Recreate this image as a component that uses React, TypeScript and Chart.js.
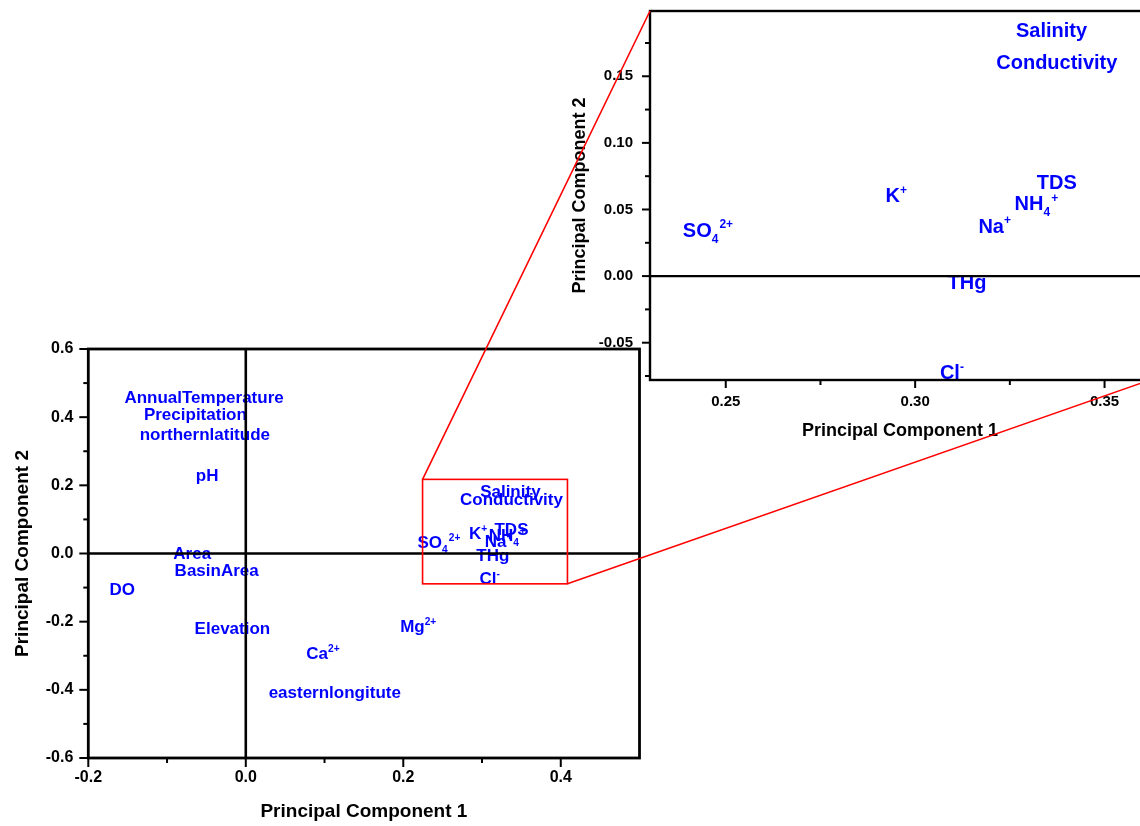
import React, { useEffect, useRef } from 'react';
import { Chart, registerables } from 'chart.js';
Chart.register(...registerables);

const FONT = "'Liberation Sans', Arial, Helvetica, sans-serif";

// ---- data: PCA loadings ----
const variableNames = [
  'Salinity', 'Conductivity', 'TDS', 'NH', 'Na', 'K', 'THg', 'Cl', 'SO',
  'AnnualTemperature', 'Precipitation', 'northernlatitude', 'pH', 'Area', 'BasinArea',
  'DO', 'Elevation', 'Ca', 'easternlongitute', 'Mg',
];
const subscripts = ['', '', '', '4', '', '', '', '', '4', '', '', '', '', '', '', '', '', '', '', ''];
const superscripts = ['', '', '', '+', '+', '+', '', '-', '2+', '', '', '', '', '', '', '', '', '2+', '', '2+'];
const pc1 = [
  0.336, 0.3374, 0.3374, 0.332, 0.321, 0.295, 0.3137, 0.3097, 0.2453,
  -0.053, -0.064, -0.052, -0.049, -0.068, -0.037,
  -0.157, -0.017, 0.098, 0.113, 0.219,
];
const pc2 = [
  0.185, 0.161, 0.071, 0.055, 0.038, 0.061, -0.004, -0.072, 0.035,
  0.459, 0.409, 0.351, 0.230, 0.001, -0.048,
  -0.104, -0.219, -0.292, -0.406, -0.213,
];

// ---- axes ----
const mainXRange = [-0.2, 0.5];
const mainYRange = [-0.6, 0.6];
const mainXTicks = [-0.2, 0.0, 0.2, 0.4];
const mainXMinor = [-0.1, 0.1, 0.3];
const mainYTicks = [-0.6, -0.4, -0.2, 0.0, 0.2, 0.4, 0.6];
const mainYMinor = [-0.5, -0.3, -0.1, 0.1, 0.3, 0.5];

const insetXRange = [0.23, 0.362];
const insetYRange = [-0.078, 0.199];
const insetXTicks = [0.25, 0.30, 0.35];
const insetXMinor = [0.275, 0.325];
const insetYTicks = [-0.05, 0.0, 0.05, 0.10, 0.15];
const insetYMinor = [-0.075, -0.025, 0.025, 0.075, 0.125, 0.175];

// zoom rectangle (in main-plot data units)
const zoomRectX = [0.2245, 0.4085];
const zoomRectY = [-0.089, 0.2175];

const xTitle = 'Principal Component 1';
const yTitle = 'Principal Component 2';

type Spec = {
  xRange: number[]; yRange: number[];
  xTicks: number[]; yTicks: number[]; xMinor: number[]; yMinor: number[];
  decimals: number; tickSize: number; titleSize: number; labelSize: number;
  frameWidth: number; zeroWidth: number; zeroX: boolean;
  yAxisWidth: number; xAxisHeight: number;
  padding: { left: number; top: number; right: number; bottom: number };
  xTickPad: number; yTickPad: number; xTitlePad: number; yTitlePad: number;
  majorLen: number; minorLen: number; rect: boolean;
};

function drawRichLabel(ctx: CanvasRenderingContext2D, x: number, y: number, base: string, sub: string, sup: string, size: number) {
  const small = size * 0.6;
  ctx.font = `bold ${size}px ${FONT}`;
  const wb = ctx.measureText(base).width;
  ctx.font = `bold ${small}px ${FONT}`;
  const ws = sub ? ctx.measureText(sub).width + 1 : 0;
  const wp = sup ? ctx.measureText(sup).width : 0;
  const total = wb + ws + wp;
  let cx = x - total / 2;
  const baseY = y + size * 0.36;
  ctx.textAlign = 'left';
  ctx.textBaseline = 'alphabetic';
  ctx.fillStyle = '#0000ff';
  ctx.font = `bold ${size}px ${FONT}`;
  ctx.fillText(base, cx, baseY);
  cx += wb;
  ctx.font = `bold ${small}px ${FONT}`;
  if (sub) {
    ctx.fillText(sub, cx, baseY + size * 0.32);
    cx += ws;
  }
  if (sup) {
    ctx.fillText(sup, cx, baseY - size * 0.42);
  }
}

function zeroPadding(sc: any) {
  sc.paddingTop = 0;
  sc.paddingBottom = 0;
  sc.paddingLeft = 0;
  sc.paddingRight = 0;
}

function makeConfig(s: Spec): any {
  const decor = {
    id: 'pcaDecor',
    afterDatasetsDraw(chart: any) {
      const { ctx, chartArea: a, scales } = chart;
      const xs = scales.x, ys = scales.y;
      const meta = chart.getDatasetMeta(0);
      // labels
      ctx.save();
      ctx.beginPath();
      ctx.rect(a.left, a.top, a.right - a.left, a.bottom - a.top);
      ctx.clip();
      meta.data.forEach((el: any, i: number) => {
        drawRichLabel(ctx, el.x, el.y, variableNames[i], subscripts[i], superscripts[i], s.labelSize);
      });
      // zero lines
      ctx.strokeStyle = '#000';
      ctx.lineWidth = s.zeroWidth;
      const y0 = ys.getPixelForValue(0);
      ctx.beginPath();
      ctx.moveTo(a.left, y0);
      ctx.lineTo(a.right, y0);
      ctx.stroke();
      if (s.zeroX) {
        const x0 = xs.getPixelForValue(0);
        ctx.beginPath();
        ctx.moveTo(x0, a.top);
        ctx.lineTo(x0, a.bottom);
        ctx.stroke();
      }
      // zoom rectangle
      if (s.rect) {
        const rx0 = xs.getPixelForValue(zoomRectX[0]);
        const rx1 = xs.getPixelForValue(zoomRectX[1]);
        const ry0 = ys.getPixelForValue(zoomRectY[1]);
        const ry1 = ys.getPixelForValue(zoomRectY[0]);
        ctx.strokeStyle = '#ff0000';
        ctx.lineWidth = 1.6;
        ctx.strokeRect(rx0, ry0, rx1 - rx0, ry1 - ry0);
      }
      ctx.restore();
      // frame
      ctx.save();
      ctx.strokeStyle = '#000';
      ctx.lineWidth = s.frameWidth;
      ctx.strokeRect(a.left, a.top, a.right - a.left, a.bottom - a.top);
      // ticks
      ctx.lineWidth = 2;
      const tick = (vals: number[], len: number, horiz: boolean) => {
        vals.forEach((v) => {
          ctx.beginPath();
          if (horiz) {
            const px = xs.getPixelForValue(v);
            ctx.moveTo(px, a.bottom);
            ctx.lineTo(px, a.bottom + len);
          } else {
            const py = ys.getPixelForValue(v);
            ctx.moveTo(a.left - len, py);
            ctx.lineTo(a.left, py);
          }
          ctx.stroke();
        });
      };
      tick(s.xTicks, s.majorLen, true);
      tick(s.xMinor, s.minorLen, true);
      tick(s.yTicks, s.majorLen, false);
      tick(s.yMinor, s.minorLen, false);
      ctx.restore();
    },
  };
  const tickFont = { family: FONT, size: s.tickSize, weight: 'bold' as const };
  const titleFont = { family: FONT, size: s.titleSize, weight: 'bold' as const };
  return {
    type: 'scatter',
    data: {
      datasets: [{
        data: pc1.map((v, i) => ({ x: v, y: pc2[i] })),
        pointRadius: 0,
        pointHoverRadius: 0,
        showLine: false,
      }],
    },
    options: {
      responsive: false,
      animation: false,
      devicePixelRatio: 1,
      layout: { padding: s.padding },
      plugins: { legend: { display: false }, tooltip: { enabled: false } },
      events: [],
      scales: {
        x: {
          type: 'linear', min: s.xRange[0], max: s.xRange[1],
          grid: { display: false, drawTicks: false },
          border: { display: false },
          afterBuildTicks: (sc: any) => { sc.ticks = s.xTicks.map((v) => ({ value: v })); },
          afterFit: (sc: any) => { sc.height = s.xAxisHeight; zeroPadding(sc); },
          ticks: {
            color: '#000', font: tickFont, padding: s.xTickPad, maxRotation: 0, autoSkip: false,
            callback: (v: any) => Number(v).toFixed(s.decimals),
          },
          title: { display: true, text: xTitle, color: '#000', font: titleFont, padding: { top: 0, bottom: s.xTitlePad } },
        },
        y: {
          type: 'linear', min: s.yRange[0], max: s.yRange[1],
          grid: { display: false, drawTicks: false },
          border: { display: false },
          afterBuildTicks: (sc: any) => { sc.ticks = s.yTicks.map((v) => ({ value: v })); },
          afterFit: (sc: any) => { sc.width = s.yAxisWidth; zeroPadding(sc); },
          ticks: {
            color: '#000', font: tickFont, padding: s.yTickPad, autoSkip: false,
            callback: (v: any) => Number(v).toFixed(s.decimals),
          },
          title: { display: true, text: yTitle, color: '#000', font: titleFont, padding: { top: s.yTitlePad, bottom: 0 } },
        },
      },
    },
    plugins: [decor],
  };
}

const MAIN_POS = { left: 0, top: 330, width: 660, height: 496 };
const INSET_POS = { left: 560, top: 0, width: 600, height: 460 };

export default function App() {
  const mainRef = useRef<HTMLCanvasElement>(null);
  const insetRef = useRef<HTMLCanvasElement>(null);
  const overlayRef = useRef<HTMLCanvasElement>(null);

  useEffect(() => {
    const main = new Chart(mainRef.current as HTMLCanvasElement, makeConfig({
      xRange: mainXRange, yRange: mainYRange,
      xTicks: mainXTicks, yTicks: mainYTicks, xMinor: mainXMinor, yMinor: mainYMinor,
      decimals: 1, tickSize: 16, titleSize: 19, labelSize: 17,
      frameWidth: 2.8, zeroWidth: 2.6, zeroX: true,
      yAxisWidth: 88.3, xAxisHeight: 68,
      padding: { left: 0, top: 19, right: 20.5, bottom: 0 },
      xTickPad: 10, yTickPad: 15, xTitlePad: 3, yTitlePad: 11,
      majorLen: 9, minorLen: 5, rect: true,
    }));
    const inset = new Chart(insetRef.current as HTMLCanvasElement, makeConfig({
      xRange: insetXRange, yRange: insetYRange,
      xTicks: insetXTicks, yTicks: insetYTicks, xMinor: insetXMinor, yMinor: insetYMinor,
      decimals: 2, tickSize: 15, titleSize: 18, labelSize: 20,
      frameWidth: 2.4, zeroWidth: 2.2, zeroX: false,
      yAxisWidth: 90, xAxisHeight: 80,
      padding: { left: 0, top: 11, right: 10, bottom: 0 },
      xTickPad: 13, yTickPad: 17, xTitlePad: 18, yTitlePad: 9,
      majorLen: 8, minorLen: 5, rect: false,
    }));

    // connecting lines from the zoom rectangle to the inset frame
    const oc = overlayRef.current as HTMLCanvasElement;
    const ctx = oc.getContext('2d') as CanvasRenderingContext2D;
    ctx.clearRect(0, 0, oc.width, oc.height);
    const mx = main.scales.x, my = main.scales.y;
    const ia = inset.chartArea;
    const p1 = [MAIN_POS.left + mx.getPixelForValue(zoomRectX[0]), MAIN_POS.top + my.getPixelForValue(zoomRectY[1])];
    const p2 = [INSET_POS.left + ia.left, INSET_POS.top + ia.top];
    const p3 = [MAIN_POS.left + mx.getPixelForValue(zoomRectX[1]), MAIN_POS.top + my.getPixelForValue(zoomRectY[0])];
    const p4 = [INSET_POS.left + ia.right, INSET_POS.top + ia.bottom];
    ctx.strokeStyle = '#ff0000';
    ctx.lineWidth = 1.6;
    ctx.beginPath();
    ctx.moveTo(p1[0], p1[1]);
    ctx.lineTo(p2[0], p2[1]);
    ctx.moveTo(p3[0], p3[1]);
    ctx.lineTo(p4[0], p4[1]);
    ctx.stroke();

    return () => {
      main.destroy();
      inset.destroy();
    };
  }, []);

  const abs = (p: { left: number; top: number; width: number; height: number }): React.CSSProperties => ({
    position: 'absolute', left: p.left, top: p.top, width: p.width, height: p.height,
  });

  return (
    <div style={{ position: 'fixed', left: 0, top: 0, width: 1140, height: 826, overflow: 'hidden', background: '#fff' }}>
      <canvas ref={mainRef} width={MAIN_POS.width} height={MAIN_POS.height} style={abs(MAIN_POS)} />
      <canvas ref={insetRef} width={INSET_POS.width} height={INSET_POS.height} style={abs(INSET_POS)} />
      <canvas ref={overlayRef} width={1140} height={826} style={{ ...abs({ left: 0, top: 0, width: 1140, height: 826 }), pointerEvents: 'none' }} />
    </div>
  );
}
